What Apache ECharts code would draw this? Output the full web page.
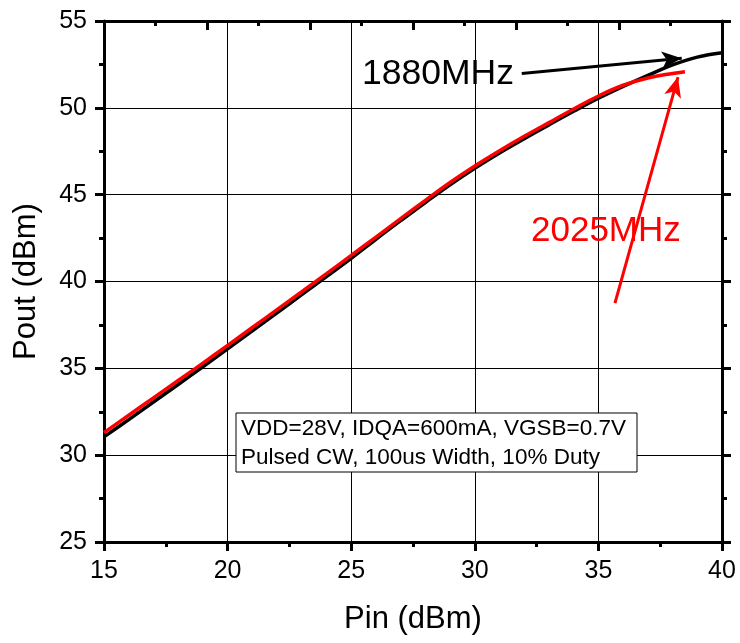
<!DOCTYPE html>
<html>
<head>
<meta charset="utf-8">
<script src="https://cdn.jsdelivr.net/npm/echarts@6/dist/echarts.min.js"></script>
<style>
html, body {margin: 0; padding: 0; background: #fff;}
#chart {width: 740px; height: 643px;}
</style>
</head>
<body>
<div id="chart"></div>
<script>
/*data*/
var pin1880 = [15, 16, 17, 18, 19, 20, 21, 22, 23, 24, 25, 26, 27, 28, 29, 30, 31, 32, 33, 34, 35, 36, 37, 38, 39, 40];
var pout1880 = [31.05, 32.05, 33.06, 34.07, 35.09, 36.12, 37.16, 38.2, 39.24, 40.28, 41.33, 42.43, 43.5, 44.55, 45.57, 46.52, 47.4, 48.22, 49.02, 49.8, 50.55, 51.23, 51.87, 52.47, 52.92, 53.17];
var pin2025 = [15, 16, 17, 18, 19, 20, 21, 22, 23, 24, 25, 26, 27, 28, 29, 30, 31, 32, 33, 34, 35, 36, 37, 38, 38.5];
var pout2025 = [31.3, 32.3, 33.3, 34.3, 35.3, 36.32, 37.35, 38.38, 39.41, 40.45, 41.5, 42.56, 43.62, 44.67, 45.7, 46.65, 47.53, 48.36, 49.15, 49.93, 50.68, 51.3, 51.72, 51.98, 52.08];
var xTicks = [15, 40, 5];   /*min, max, step*/
var yTicks = [25, 55, 5];
var noteLines = ['VDD=28V, IDQA=600mA, VGSB=0.7V', 'Pulsed CW, 100us Width, 10% Duty'];
/*arrows: [from, to] in data units*/
var arrow1880 = [[31.9, 51.98], [38.37, 52.85]];
var arrow2025 = [[35.67, 38.76], [38.22, 51.77]];

function pairs(xs, ys) {
    var out = [];
    for (var i = 0; i < xs.length; i++) {
        out.push([xs[i], ys[i]]);
    }
    return out;
}

var FONT = '"Liberation Sans", Arial, sans-serif';
var lineW = 3;

function mainAxis(t, pos, name, gap) {
    return {
        type: 'value',
        position: pos,
        min: t[0], max: t[1], interval: t[2],
        name: name,
        nameLocation: 'middle',
        nameGap: gap,
        nameTextStyle: {color: '#000', fontSize: 31, fontFamily: FONT},
        axisLine: {show: true, onZero: false, lineStyle: {color: '#000', width: lineW}},
        axisTick: {show: true, inside: false, length: 9, lineStyle: {color: '#000', width: 3}},
        minorTick: {show: true, splitNumber: 2, length: 5, lineStyle: {color: '#000', width: 3}},
        splitLine: {show: true, lineStyle: {color: '#000', width: 1}},
        axisLabel: {color: '#000', fontSize: 25, fontFamily: FONT, margin: 17}
    };
}

var myChart = echarts.init(document.getElementById('chart'));
var option = {
    animation: false,
    backgroundColor: '#fff',
    grid: {left: 104, right: 18, top: 21, bottom: 101},
    xAxis: [
        mainAxis(xTicks, 'bottom', 'Pin (dBm)', 62),
        {
            /*top frame, its own tick spacing*/
            type: 'value', position: 'top', min: 0, max: 6, interval: 1,
            axisLine: {show: true, onZero: false, lineStyle: {color: '#000', width: lineW}},
            axisTick: {show: true, inside: true, length: 9, lineStyle: {color: '#000', width: 3}},
            minorTick: {show: true, splitNumber: 2, length: 5, lineStyle: {color: '#000', width: 3}},
            splitLine: {show: false},
            axisLabel: {show: false}
        }
    ],
    yAxis: [
        mainAxis(yTicks, 'left', 'Pout (dBm)', 62),
        {
            type: 'value', position: 'right', min: yTicks[0], max: yTicks[1], interval: yTicks[2],
            axisLine: {show: true, onZero: false, lineStyle: {color: '#000', width: lineW}},
            axisTick: {show: true, inside: false, length: 9, lineStyle: {color: '#000', width: 3}},
            minorTick: {show: true, splitNumber: 2, length: 5, lineStyle: {color: '#000', width: 3}},
            splitLine: {show: false},
            axisLabel: {show: false}
        }
    ],
    series: [
        {
            name: '1880MHz',
            type: 'line',
            smooth: 0.4,
            showSymbol: false,
            symbol: 'none',
            lineStyle: {color: '#000', width: 3.5},
            data: pairs(pin1880, pout1880),
            markLine: {
                silent: true,
                symbol: ['none', 'arrow'],
                symbolSize: [13, 20],
                label: {show: false},
                lineStyle: {color: '#000', width: 3, type: 'solid'},
                data: [[{coord: arrow1880[0]}, {coord: arrow1880[1]}]]
            }
        },
        {
            name: '2025MHz',
            type: 'line',
            smooth: 0.4,
            showSymbol: false,
            symbol: 'none',
            lineStyle: {color: '#ff0000', width: 3.5},
            data: pairs(pin2025, pout2025),
            markLine: {
                silent: true,
                symbol: ['none', 'arrow'],
                symbolSize: [13, 20],
                label: {show: false},
                lineStyle: {color: '#ff0000', width: 3, type: 'solid'},
                data: [[{coord: arrow2025[0]}, {coord: arrow2025[1]}]]
            }
        }
    ],
    graphic: [
        {type: 'text', left: 362, top: 56, z: 100,
            style: {text: '1880MHz', fill: '#000', font: '35.5px ' + FONT}},
        {type: 'text', left: 531, top: 214, z: 100,
            style: {text: '2025MHz', fill: '#ff0000', font: '35px ' + FONT}},
        {type: 'rect', z: 100, shape: {x: 236, y: 413, width: 401, height: 59},
            style: {fill: '#fff', stroke: '#000', lineWidth: 1}},
        {type: 'text', left: 241, top: 417, z: 101,
            style: {text: noteLines[0], fill: '#000', font: '22.5px ' + FONT}},
        {type: 'text', left: 241, top: 446, z: 101,
            style: {text: noteLines[1], fill: '#000', font: '22.5px ' + FONT}}
    ]
};
myChart.setOption(option);
</script>
</body>
</html>
